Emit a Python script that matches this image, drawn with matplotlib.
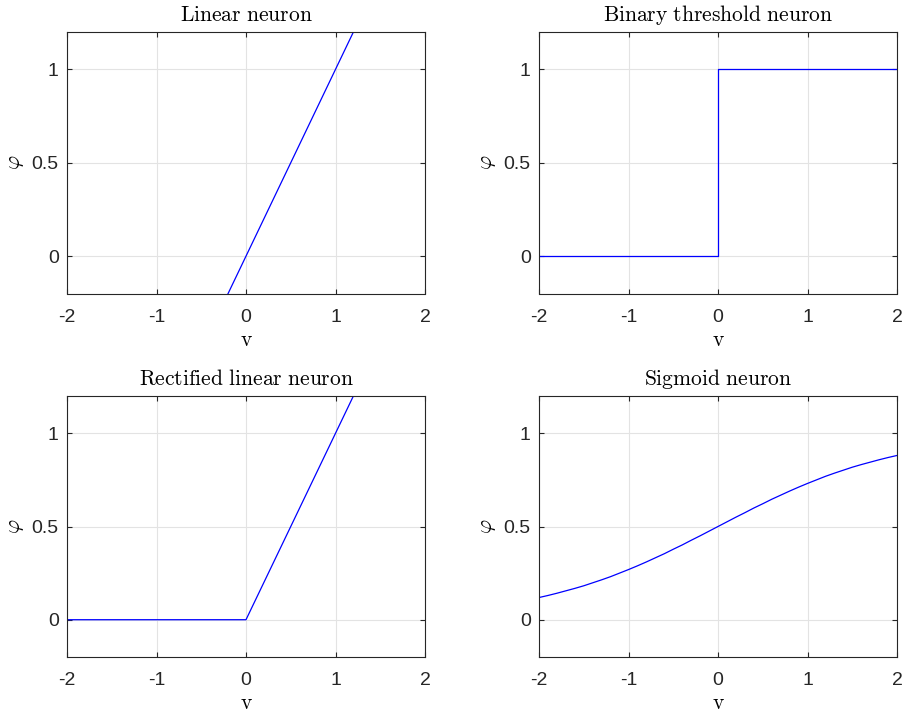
import matplotlib
matplotlib.use("Agg")
import matplotlib.pyplot as plt

plt.rcParams['mathtext.fontset'] = 'cm'
plt.rcParams['font.family'] = ['Liberation Sans', 'DejaVu Sans']

# neuron activation curves
v_lin = [-2, 2]
phi_lin = [-2, 2]

v_bin = [-2, 0, 0, 2]
phi_bin = [0, 0, 1, 1]

v_relu = [-2, 0, 2]
phi_relu = [0, 0, 2]

v_sig = [-2.0, -1.9, -1.8, -1.7, -1.6, -1.5, -1.4, -1.3, -1.2, -1.1,
         -1.0, -0.9, -0.8, -0.7, -0.6, -0.5, -0.4, -0.3, -0.2, -0.1,
         0.0, 0.1, 0.2, 0.3, 0.4, 0.5, 0.6, 0.7, 0.8, 0.9,
         1.0, 1.1, 1.2, 1.3, 1.4, 1.5, 1.6, 1.7, 1.8, 1.9, 2.0]
phi_sig = [0.119, 0.130, 0.142, 0.155, 0.168, 0.182, 0.198, 0.214, 0.231, 0.250,
           0.269, 0.289, 0.310, 0.332, 0.354, 0.378, 0.401, 0.426, 0.450, 0.475,
           0.500, 0.525, 0.550, 0.574, 0.599, 0.622, 0.646, 0.668, 0.690, 0.711,
           0.731, 0.750, 0.769, 0.786, 0.802, 0.818, 0.832, 0.845, 0.858, 0.870, 0.881]

titles = ['Linear neuron', 'Binary threshold neuron',
          'Rectified linear neuron', 'Sigmoid neuron']
curves = [(v_lin, phi_lin), (v_bin, phi_bin), (v_relu, phi_relu), (v_sig, phi_sig)]

xticks = [-2, -1, 0, 1, 2]
xticklabels = ['-2', '-1', '0', '1', '2']
yticks = [0, 0.5, 1]
yticklabels = ['0', '0.5', '1']

fig = plt.figure(figsize=(9.05, 7.13), dpi=100)

W, H = 905., 713.
boxes = [(67, 32, 425, 293.5), (539, 32, 897, 293.5),
         (67, 396, 425, 657), (539, 396, 897, 657)]
AXC = '#262626'

for (x0, y0, x1, y1), title, (vx, vy) in zip(boxes, titles, curves):
    ax = fig.add_axes([x0 / W, 1 - y1 / H, (x1 - x0) / W, (y1 - y0) / H])
    ax.plot(vx, vy, color=(0, 0, 1), lw=0.9)
    ax.set_xlim(-2, 2)
    ax.set_ylim(-0.2, 1.2)
    ax.set_xticks(xticks)
    ax.set_xticklabels(xticklabels)
    ax.set_yticks(yticks)
    ax.set_yticklabels(yticklabels)
    ax.grid(True, color='#e3e3e3', lw=0.8)
    ax.set_axisbelow(True)
    for s in ax.spines.values():
        s.set_color(AXC)
        s.set_linewidth(0.8)
    ax.tick_params(direction='in', length=3.5, width=0.8, color=AXC,
                   top=True, right=True, labelsize=14, labelcolor=AXC)
    ax.tick_params(axis='x', pad=11)
    ax.tick_params(axis='y', pad=6)
    ax.set_title(r'$\mathrm{' + title.replace(' ', r'\ ') + '}$',
                 fontsize=15.5, pad=8)
    ax.set_xlabel(r'$\mathrm{v}$', fontsize=15.5, labelpad=3)
    ax.set_ylabel(r'$\varphi$', fontsize=15.5, labelpad=4, rotation=90)

fig.savefig('out.png', dpi=100)
